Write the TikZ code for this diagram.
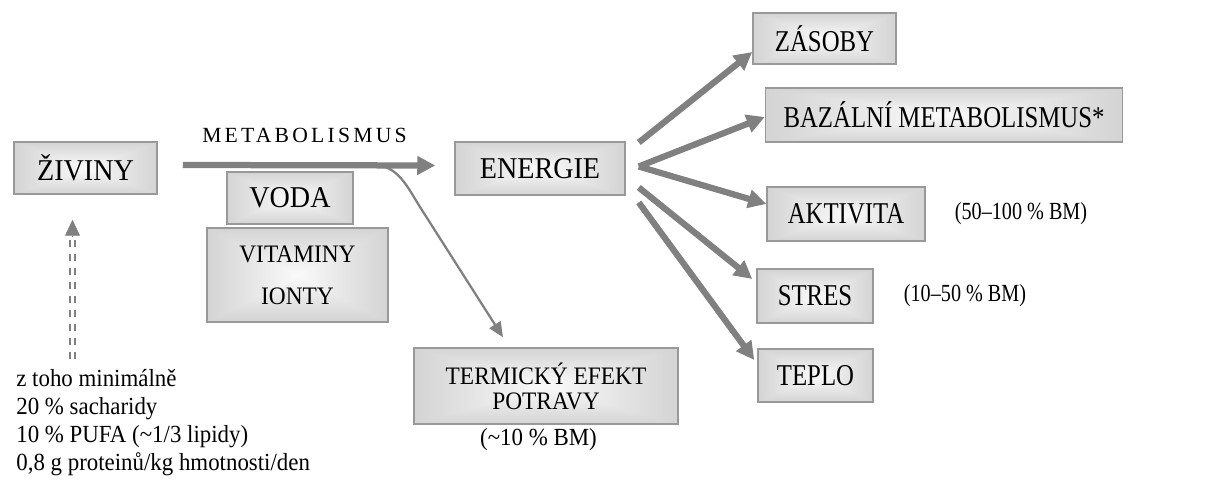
\documentclass[tikz,border=0pt]{standalone}
\usepackage{fontspec}
\setmainfont{Liberation Serif}
\newfontfamily\levy[FakeStretch=0.93]{Liberation Serif}
\newfontfamily\pravy[FakeStretch=0.82]{Liberation Serif}
\usetikzlibrary{arrows.meta}

\definecolor{arrowgray}{HTML}{808080}
\definecolor{framegray}{HTML}{999999}

% light centre, grey edges
\pgfdeclarefunctionalshading{boxshade}{\pgfpoint{-50bp}{-50bp}}{\pgfpoint{50bp}{50bp}}{}{
	abs exch abs 2 copy lt {exch} if pop 50 div 0.3 mul 0.98 exch sub dup dup
}

\tikzset{
	box/.style={draw=framegray, line width=0.03cm, shading=boxshade, inner sep=0pt, font=\levy\fontsize{17.2}{20}\selectfont},
	rbox/.style={box, font=\pravy\fontsize{17.2}{20}\selectfont},
	twobox/.style={box, align=center},
	bigarrow/.style={draw=arrowgray, line width=0.125cm, -{Triangle[length=0.36cm, width=0.36cm]}},
	thinarrow/.style={draw=arrowgray, line width=0.045cm, -{Triangle[length=0.3cm, width=0.26cm]}},
	dblline/.style={draw=arrowgray, double=white, double distance=0.045cm, line width=0.045cm, dash pattern=on 0.14cm off 0.14cm},
	remark/.style={inner sep=0pt, font=\pravy\fontsize{14}{16}\selectfont},
}

\begin{document}
\begin{tikzpicture}
	\useasboundingbox (0,0) rectangle (24.4,9.68);

	\node[box, minimum width=2.86cm, minimum height=1.04cm] (ziviny) at (1.71, 6.32) {ŽIVINY};
	\node[box, minimum width=2.52cm, minimum height=1.04cm] (voda) at (5.80, 5.72) {VODA};
	\node[twobox, minimum width=3.62cm, minimum height=1.88cm, font=\levy\fontsize{14.3}{23.9}\selectfont] (vitaminy) at (5.95, 4.18) {VITAMINY\\IONTY};
	\node[box, minimum width=3.40cm, minimum height=1.06cm] (energie) at (10.80, 6.31) {ENERGIE};
	\node[twobox, minimum width=5.28cm, minimum height=1.52cm, font=\levy\fontsize{14.3}{14.2}\selectfont] (termika) at (10.92, 1.96) {TERMICKÝ EFEKT\\POTRAVY};

	\node[rbox, minimum width=2.86cm, minimum height=1.02cm] (zasoby) at (16.49, 8.91) {ZÁSOBY};
	\node[rbox, minimum width=7.14cm, minimum height=1.08cm] (bazal) at (18.88, 7.38) {BAZÁLNÍ METABOLISMUS*};
	\node[rbox, minimum width=3.16cm, minimum height=1.08cm] (aktivita) at (16.92, 5.40) {AKTIVITA};
	\node[rbox, minimum width=2.32cm, minimum height=1.08cm] (stres) at (16.30, 3.76) {STRES};
	\node[rbox, minimum width=2.30cm, minimum height=1.06cm] (teplo) at (16.31, 2.17) {TEPLO};

	\node[remark] (bm-akt) at (20.42, 5.40) {(50–100 \% BM)};
	\node[remark] (bm-str) at (19.30, 3.76) {(10–50 \% BM)};
	\node[remark, font=\levy\fontsize{14}{16}\selectfont] (bm-term) at (10.77, 0.88) {(\textasciitilde10 \% BM)};
	\node[inner sep=0pt, font=\fontsize{12.3}{14}\addfontfeature{LetterSpace=15}] (metab) at (6.09, 6.97) {METABOLISMUS};

	\node[inner sep=0pt, anchor=north west, align=left, font=\levy\fontsize{14}{15.9}\selectfont] (pozn) at (0.32, 2.30)
		{z toho minimálně\\20 \% sacharidy\\10 \% PUFA (\textasciitilde1/3 lipidy)\\0,8 g proteinů/kg hmotnosti/den};

	% metabolism and the branch to the thermic effect
	\draw[bigarrow] ([xshift=0.5cm, yshift=0.06cm]ziviny.east) -- ([xshift=-0.38cm, yshift=0.06cm]energie.west);
	\coordinate (odbocka) at (7.46, 6.38);
	\coordinate (koleno) at (8.40, 5.54);
	\coordinate (term-in) at ([xshift=-0.86cm, yshift=0.2cm]termika.north);
	\draw[thinarrow] (odbocka) to[out=0, in=122] (koleno) -- (term-in);

	% energy goes out
	\draw[bigarrow] ([shift={(0.26,0.52)}]energie.east) -- ([yshift=-0.27cm]zasoby.west);
	\draw[bigarrow] ([shift={(0.26,0.04)}]energie.east) -- ([yshift=-0.04cm]bazal.west);
	\draw[bigarrow] ([shift={(0.26,0.04)}]energie.east) -- ([yshift=0.2cm]aktivita.west);
	\draw[bigarrow] ([shift={(0.26,-0.38)}]energie.east) -- ([shift={(-0.08,0.34)}]stres.west);
	\draw[bigarrow] ([shift={(0.26,-0.68)}]energie.east) -- ([shift={(-0.06,0.31)}]teplo.west);

	% minimum intake
	\coordinate (ziv-in) at ([xshift=-0.26cm, yshift=-0.5cm]ziviny.south);
	\draw[dblline] ([yshift=0.2cm]pozn.north -| ziv-in) -- ([yshift=-0.32cm]ziv-in);
	\draw[draw=arrowgray, line width=0.4pt, -{Triangle[length=0.32cm, width=0.3cm]}] ([yshift=-0.32cm]ziv-in) -- (ziv-in);
\end{tikzpicture}
\end{document}
